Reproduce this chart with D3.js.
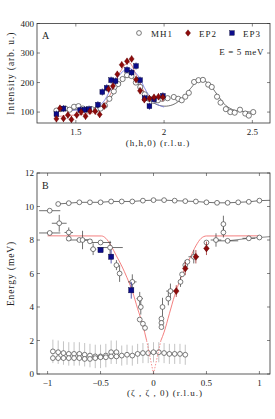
<!DOCTYPE html>
<html>
<head>
<meta charset="utf-8">
<script src="https://cdn.jsdelivr.net/npm/d3@7"></script>
<style>
  body { margin: 0; background: #fff; }
  svg { display: block; }
  text { font-family: "Liberation Serif", "DejaVu Serif", serif; fill: #222; }
</style>
</head>
<body>
<svg id="chart" width="275" height="419"></svg>
<script>
// ---- Panel A data: [h, intensity] ----
const mh1A = [[1.39,105],[1.415,110],[1.44,112],[1.465,108],[1.49,118],[1.515,120],[1.54,112],[1.565,108],
  [1.59,110],[1.615,108],[1.64,112],[1.665,122],[1.69,145],[1.715,170],[1.74,195],[1.765,212],[1.79,225],
  [1.815,222],[1.84,200],[1.865,185],[1.89,160],[1.915,145],[1.94,138],[1.965,140],[1.99,145],[2.02,147],
  [2.055,151],[2.08,145],[2.10,140],[2.12,152],[2.14,165],[2.17,202],[2.195,208],[2.22,209],[2.25,193],
  [2.27,185],[2.30,152],[2.32,132],[2.35,110],[2.375,100],[2.40,98],[2.43,108],[2.46,95],[2.48,88],[2.505,100]];
const ep2A = [[1.39,77],[1.41,113],[1.43,78],[1.455,90],[1.475,75],[1.505,90],[1.53,100],[1.555,86],
  [1.58,103],[1.61,103],[1.635,92],[1.66,120],[1.685,178],[1.71,188],[1.735,228],[1.76,260],[1.79,272],
  [1.816,280],[1.841,210],[1.864,172],[1.888,142],[1.917,146],[1.943,150],[1.968,152],[1.993,150]];
const ep3A = [[1.39,93],[1.43,112],[1.525,107],[1.55,108],[1.575,110],[1.625,125],[1.65,168],[1.675,182],
  [1.70,208],[1.725,205],[1.79,243],[1.816,234],[1.841,256],[1.864,208],[1.89,147],[1.917,120],[1.943,143],[1.993,155]];
const fitMH1 = [[1.38,103],[1.45,106],[1.5,108],[1.55,108],[1.6,110],[1.65,118],[1.7,150],[1.75,198],[1.8,222],
  [1.85,198],[1.9,155],[1.95,128],[2.0,120],[2.05,125],[2.1,145],[2.15,180],[2.2,210],[2.25,198],[2.3,160],
  [2.35,122],[2.4,106],[2.45,102],[2.5,100]];
const fitEP2 = [[1.38,84],[1.45,88],[1.5,90],[1.55,93],[1.6,98],[1.65,115],[1.7,165],[1.75,235],[1.8,268],
  [1.85,215],[1.9,158],[1.95,140],[2.0,138]];
const fitEP3 = [[1.38,103],[1.45,105],[1.5,107],[1.55,108],[1.6,112],[1.65,130],[1.7,180],[1.75,228],[1.8,248],
  [1.85,225],[1.9,170],[1.95,130],[2.0,117]];
const ticksAx = [1.5, 2, 2.5];
const ticksAy = [100, 200, 300, 400];

// ---- Panel B data: {z, E, ex, ey} ----
const topBranch = [[-0.9,10.15],[-0.8,10.2],[-0.7,10.25],[-0.6,10.25],[-0.5,10.25],[-0.4,10.3],[-0.3,10.3],
  [-0.2,10.3],[-0.1,10.35],[0,10.38],[0.1,10.38],[0.2,10.35],[0.3,10.32],[0.4,10.3],[0.5,10.25],[0.6,10.22],
  [0.7,10.22],[0.8,10.25],[0.9,10.28],[1.0,10.35],[1.1,10.37]];
const mh1B = [
  {z:-0.98,E:9.75,ex:0.1,ey:0},{z:-0.98,E:8.42,ex:0.1,ey:0},{z:-0.89,E:9.0,ex:0.07,ey:0.5},
  {z:-0.80,E:8.45,ex:0.04,ey:0.3},{z:-0.80,E:8.08,ex:0,ey:0},{z:-0.70,E:8.0,ex:0.12,ey:0},
  {z:-0.67,E:8.0,ex:0.05,ey:0.55},{z:-0.60,E:7.92,ex:0,ey:0},{z:-0.57,E:7.45,ex:0.03,ey:0.35},
  {z:-0.50,E:7.85,ex:0.1,ey:0},{z:-0.41,E:7.55,ex:0.12,ey:0.4},{z:-0.35,E:6.5,ex:0,ey:0.3},
  {z:-0.32,E:6.0,ex:0,ey:0.5},{z:-0.20,E:5.5,ex:0.04,ey:0.45},{z:-0.13,E:4.5,ex:0.03,ey:0.4},
  {z:-0.12,E:4.0,ex:0,ey:0.45},{z:-0.13,E:3.25,ex:0,ey:0},{z:-0.10,E:3.0,ex:0,ey:0},{z:-0.08,E:2.75,ex:0,ey:0},
  {z:0.075,E:3.3,ex:0,ey:0},{z:0.075,E:3.05,ex:0,ey:0},{z:0.075,E:2.8,ex:0,ey:0},
  {z:0.085,E:4.0,ex:0,ey:0.55},{z:0.14,E:4.5,ex:0,ey:0.4},{z:0.16,E:4.95,ex:0.04,ey:0.45},
  {z:0.255,E:5.5,ex:0,ey:0.3},{z:0.27,E:5.95,ex:0,ey:0},{z:0.30,E:6.5,ex:0,ey:0.3},{z:0.32,E:6.7,ex:0,ey:0},
  {z:0.38,E:7.0,ex:0.05,ey:0.4},{z:0.50,E:7.85,ex:0,ey:0},{z:0.59,E:8.0,ex:0.05,ey:0.4},
  {z:0.66,E:8.45,ex:0,ey:0.3},{z:0.66,E:8.95,ex:0,ey:0.5},{z:0.70,E:7.95,ex:0.1,ey:0},
  {z:0.90,E:8.1,ex:0.06,ey:0},{z:1.0,E:8.15,ex:0,ey:0}];
const rightTail = [[0.70,7.95],[0.90,8.1],[1.0,8.15],[1.1,8.2]];
const ep3B = [{z:-0.50,E:7.4,ey:0},{z:-0.40,E:7.0,ey:0.4},{z:-0.21,E:5.0,ey:0.5}];
const ep2B = [{z:0.215,E:4.95,ey:0.35},{z:0.30,E:6.3,ey:0.4},{z:0.40,E:7.0,ey:0.4},{z:0.50,E:7.5,ey:0.4}];
// low-energy rows
const lowZ1 = [-0.95,-0.9,-0.85,-0.8,-0.75,-0.7,-0.65,-0.6,-0.55,-0.5,-0.45,-0.4,-0.35];
const lowE1 = [1.35,1.3,1.25,1.2,1.2,1.2,1.15,1.1,1.05,1.05,1.1,1.3,1.3];
const lowE2 = [0.95,0.95,0.95,0.95,0.95,0.95,0.9,0.9,0.95,1.0,1.0,1.05,1.05];
const lowZ3 = [-0.3,-0.25,-0.2,-0.15,-0.1,-0.05,0,0.05,0.1,0.15,0.2,0.25,0.3];
const lowE3 = [1.1,1.15,1.1,1.2,1.25,1.25,1.3,1.3,1.25,1.2,1.2,1.2,1.15];
// model dispersion (red)
const modelLeft = [[-1.0,8.25],[-0.49,8.24],[-0.45,8.1],[-0.4,7.65],[-0.35,7.05],[-0.3,6.45],[-0.25,5.75],
  [-0.2,4.95],[-0.15,3.9],[-0.1,2.9],[-0.065,2.0]];
const modelRight = [[1.0,8.25],[0.5,8.24],[0.45,8.1],[0.4,7.65],[0.35,7.0],[0.3,6.35],[0.25,5.6],
  [0.2,4.7],[0.15,3.6],[0.1,2.5],[0.07,2.0]];
const modelTip = [[0,0]];
const ticksBx = [-1, -0.5, 0, 0.5, 1];
const ticksBy = [0, 2, 4, 6, 8, 10, 12];

const svg = d3.select('#chart');
const C_EP2 = '#8e0b0b', C_EP3 = '#0b0b8a', C_MH1 = '#444';

function frame(x, y, tx, ty, fmtx) {
  const [x0, x1] = x.range(), [y0, y1] = y.range();
  const g = svg.append('g');
  g.append('rect').attr('x', x0).attr('y', y1).attr('width', x1 - x0).attr('height', y0 - y1)
    .attr('fill', 'none').attr('stroke', '#333').attr('stroke-width', 0.8);
  tx.forEach(t => {
    const px = x(t);
    g.append('line').attr('x1', px).attr('x2', px).attr('y1', y0).attr('y2', y0 - 3).attr('stroke', '#333').attr('stroke-width', 0.6);
    g.append('line').attr('x1', px).attr('x2', px).attr('y1', y1).attr('y2', y1 + 3).attr('stroke', '#333').attr('stroke-width', 0.6);
    g.append('text').attr('x', px).attr('y', y0 + 12).attr('text-anchor', 'middle')
      .attr('font-size', 9).text(fmtx(t));
  });
  ty.forEach(t => {
    const py = y(t);
    g.append('line').attr('x1', x0).attr('x2', x0 + 3).attr('y1', py).attr('y2', py).attr('stroke', '#333').attr('stroke-width', 0.6);
    g.append('line').attr('x1', x1).attr('x2', x1 - 3).attr('y1', py).attr('y2', py).attr('stroke', '#333').attr('stroke-width', 0.6);
    g.append('text').attr('x', x0 - 3).attr('y', py + 3).attr('text-anchor', 'end')
      .attr('font-size', 9).text(t);
  });
}

function circle(g, cx, cy, r, stroke) {
  g.append('circle').attr('cx', cx).attr('cy', cy).attr('r', r)
    .attr('fill', '#fff').attr('stroke', stroke).attr('stroke-width', 0.7);
}
function diamond(g, cx, cy, s, fill) {
  g.append('path').attr('d', `M${cx},${cy - s}L${cx + s * 0.8},${cy}L${cx},${cy + s}L${cx - s * 0.8},${cy}Z`)
    .attr('fill', fill).attr('stroke', '#500').attr('stroke-width', 0.4);
}
function square(g, cx, cy, s, fill) {
  g.append('rect').attr('x', cx - s).attr('y', cy - s).attr('width', 2 * s).attr('height', 2 * s)
    .attr('fill', fill).attr('stroke', '#003').attr('stroke-width', 0.4);
}
function vbar(g, x, y, cx, v, e, color) {
  g.append('line').attr('x1', x(cx)).attr('x2', x(cx)).attr('y1', y(v - e)).attr('y2', y(v + e))
    .attr('stroke', color).attr('stroke-width', 0.7);
}
function hbar(g, x, y, c, v, e, color) {
  g.append('line').attr('x1', x(c - e)).attr('x2', x(c + e)).attr('y1', y(v)).attr('y2', y(v))
    .attr('stroke', color).attr('stroke-width', 0.7);
}

// ================= Panel A =================
const xA = d3.scaleLinear().domain([1.28, 2.6]).range([37, 270]);
const yA = d3.scaleLinear().domain([63, 400]).range([123, 23.5]);
const lineA = d3.line().x(d => xA(d[0])).y(d => yA(d[1])).curve(d3.curveCatmullRom);
const gA = svg.append('g');

gA.append('path').attr('d', lineA(fitMH1)).attr('fill', 'none').attr('stroke', '#333').attr('stroke-width', 0.7);
gA.append('path').attr('d', lineA(fitEP2)).attr('fill', 'none').attr('stroke', '#e06a6a').attr('stroke-width', 0.8);
gA.append('path').attr('d', lineA(fitEP3)).attr('fill', 'none').attr('stroke', '#6f72e0').attr('stroke-width', 0.8);

mh1A.forEach(d => { vbar(gA, xA, yA, d[0], d[1], 6, '#777'); });
mh1A.forEach(d => circle(gA, xA(d[0]), yA(d[1]), 2.6, C_MH1));
ep3A.forEach(d => { vbar(gA, xA, yA, d[0], d[1], 12, C_EP3); square(gA, xA(d[0]), yA(d[1]), 2.4, C_EP3); });
ep2A.forEach(d => { vbar(gA, xA, yA, d[0], d[1], 12, C_EP2); diamond(gA, xA(d[0]), yA(d[1]), 3.2, C_EP2); });

frame(xA, yA, ticksAx, ticksAy, t => t);

gA.append('text').attr('x', 42).attr('y', 39).attr('font-size', 10).text('A');
// legend
circle(gA, 139, 33, 2.4, C_MH1);
gA.append('text').attr('x', 151).attr('y', 36.5).attr('font-size', 9).attr('letter-spacing', 1).text('MH1');
diamond(gA, 188, 33, 3.2, C_EP2);
gA.append('text').attr('x', 199).attr('y', 36.5).attr('font-size', 9).attr('letter-spacing', 1).text('EP2');
square(gA, 232, 33, 2.3, C_EP3);
gA.append('text').attr('x', 243).attr('y', 36.5).attr('font-size', 9).attr('letter-spacing', 1).text('EP3');
gA.append('text').attr('x', 264).attr('y', 54.5).attr('font-size', 9).attr('text-anchor', 'end')
  .attr('letter-spacing', 0.6).text('E = 5 meV');

gA.append('text').attr('transform', `translate(14,${(23.5 + 123) / 2}) rotate(-90)`)
  .attr('text-anchor', 'middle').attr('font-size', 9.5).attr('letter-spacing', 0.9).text('Intensity (arb. u.)');
gA.append('text').attr('x', 158).attr('y', 146).attr('text-anchor', 'middle')
  .attr('font-size', 9).attr('letter-spacing', 1).text('(h,h,0) (r.l.u.)');

// ================= Panel B =================
const xB = d3.scaleLinear().domain([-1.1, 1.1]).range([37, 270]);
const yB = d3.scaleLinear().domain([0, 12]).range([374, 173]);
const lineB = d3.line().x(d => xB(d[0])).y(d => yB(d[1]));
const gB = svg.append('g');

// low energy rows
const lowRows = [
  lowZ1.map((z, i) => [z, lowE1[i], 0.7]),
  lowZ1.map((z, i) => [z, lowE2[i], 0]),
  lowZ3.map((z, i) => [z, lowE3[i], 0.6])
];
lowRows.forEach((row, k) => row.forEach(d => {
  if (d[2] > 0) vbar(gB, xB, yB, d[0], d[1], d[2], k % 2 ? '#999' : '#aaa');
}));
lowRows.forEach(row => row.forEach(d => circle(gB, xB(d[0]), yB(d[1]), 2.4, C_MH1)));

// model lines
gB.append('path').attr('d', lineB.curve(d3.curveMonotoneX)(modelLeft)).attr('fill', 'none').attr('stroke', '#f06060').attr('stroke-width', 0.8);
gB.append('path').attr('d', lineB.curve(d3.curveMonotoneX)(modelRight)).attr('fill', 'none').attr('stroke', '#f06060').attr('stroke-width', 0.8);
lineB.curve(d3.curveLinear);
[modelLeft, modelRight].forEach(m => {
  gB.append('path').attr('d', lineB([m[m.length - 1], modelTip[0]])).attr('fill', 'none')
    .attr('stroke', '#f06060').attr('stroke-width', 0.7).attr('stroke-dasharray', '1.5,1.5');
});

// top branch
gB.append('path').attr('d', lineB(topBranch)).attr('fill', 'none').attr('stroke', '#333').attr('stroke-width', 0.7);
topBranch.slice(0, -1).forEach(d => circle(gB, xB(d[0]), yB(d[1]), 2.4, C_MH1));
gB.append('path').attr('d', lineB(rightTail)).attr('fill', 'none').attr('stroke', '#555').attr('stroke-width', 0.7);

// MH1 lower branch
mh1B.forEach(d => {
  if (d.ey > 0) vbar(gB, xB, yB, d.z, d.E, d.ey, '#333');
  if (d.ex > 0) hbar(gB, xB, yB, d.z, d.E, d.ex, '#333');
});
mh1B.forEach(d => circle(gB, xB(d.z), yB(d.E), 2.4, C_MH1));
ep3B.forEach(d => { if (d.ey > 0) vbar(gB, xB, yB, d.z, d.E, d.ey, C_EP3); square(gB, xB(d.z), yB(d.E), 2.6, C_EP3); });
ep2B.forEach(d => { if (d.ey > 0) vbar(gB, xB, yB, d.z, d.E, d.ey, C_EP2); diamond(gB, xB(d.z), yB(d.E), 3.5, C_EP2); });

frame(xB, yB, ticksBx, ticksBy, t => d3.format('')(t).replace('-', '\u2212'));

gB.append('text').attr('x', 42).attr('y', 189).attr('font-size', 10).text('B');
gB.append('text').attr('transform', `translate(14,${(173 + 374) / 2}) rotate(-90)`)
  .attr('text-anchor', 'middle').attr('font-size', 9.5).attr('letter-spacing', 0.9).text('Energy (meV)');
gB.append('text').attr('x', 165).attr('y', 396).attr('text-anchor', 'middle')
  .attr('font-size', 9).attr('letter-spacing', 1).text('(ζ , ζ , 0) (r.l.u.)');
</script>
</body>
</html>
